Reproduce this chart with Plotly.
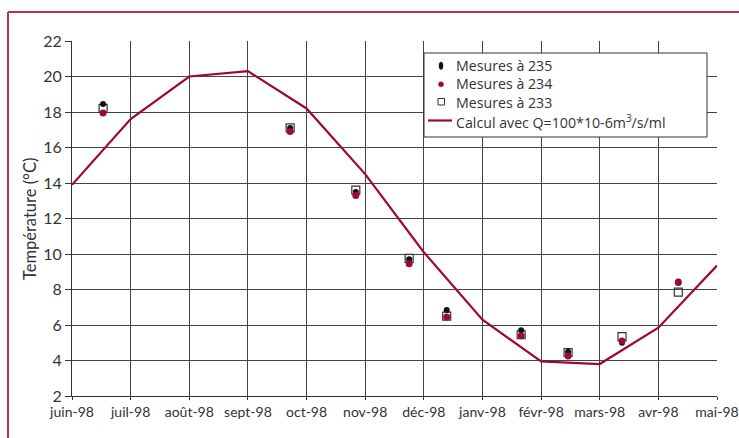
import plotly.graph_objects as go

# Month axis (index 0 = juin-98 ... 11 = mai-98)
months = ["juin-98", "juil-98", "août-98", "sept-98", "oct-98", "nov-98",
          "déc-98", "janv-98", "févr-98", "mars-98", "avr-98", "mai-98"]

# Computed temperature at the start of each month
calc_temp = [13.9, 17.6, 20.0, 20.3, 18.2, 14.5, 10.1, 6.3, 3.95, 3.8, 5.85, 9.35]

# Measurement dates expressed as fractional month index
meas_pos = [0.53, 3.72, 4.84, 5.75, 6.39, 7.66, 8.46, 9.38, 10.34]
meas_235 = [18.45, 17.1, 13.5, 9.7, 6.85, 5.7, 4.5, 5.0, 8.45]
meas_234 = [17.95, 16.9, 13.3, 9.45, 6.45, 5.4, 4.25, 5.1, 8.4]
meas_233 = [18.2, 17.1, 13.6, 9.75, 6.5, 5.45, 4.45, 5.35, 7.85]

y_ticks = list(range(2, 23, 2))

legend_labels = ["Mesures à 235", "Mesures à 234", "Mesures à 233",
                 "Calcul avec Q=100*10-6m<sup>3</sup>/s/ml"]

FONT = "Lato, 'Open Sans', sans-serif"
LEG_FONT = "'Open Sans', Lato, sans-serif"
RED = "#9c0a33"
INK = "#333333"

W, H = 739, 438
ML, MR, MT, MB = 72, 22, 41, 42
PW, PH = W - ML - MR, H - MT - MB


def px(x):
    """Horizontal pixel -> paper coordinate."""
    return (x - ML) / PW


def py(y):
    """Vertical pixel (from top) -> paper coordinate."""
    return (H - MB - y) / PH


fig = go.Figure()

fig.add_trace(go.Scatter(
    x=meas_pos, y=meas_233, mode="markers", name=legend_labels[2],
    marker=dict(symbol="square-open", size=8, color=INK,
                line=dict(width=1.2, color=INK))))

fig.add_trace(go.Scatter(
    x=meas_pos, y=meas_235, mode="markers", name=legend_labels[0],
    marker=dict(symbol="circle", size=6, color="#111111")))

fig.add_trace(go.Scatter(
    x=meas_pos, y=meas_234, mode="markers", name=legend_labels[1],
    marker=dict(symbol="circle", size=7, color=RED)))

fig.add_trace(go.Scatter(
    x=list(range(len(months))), y=calc_temp, mode="lines",
    name=legend_labels[3], line=dict(color=RED, width=2.2)))

# Legend box drawn as layout decoration
shapes = [
    dict(type="rect", xref="paper", yref="paper",
         x0=px(424), x1=px(707), y0=py(137), y1=py(53),
         line=dict(color=INK, width=1), fillcolor="white", layer="above"),
    # symbol: black ellipse
    dict(type="circle", xref="paper", yref="paper",
         x0=px(439), x1=px(443), y0=py(69.5), y1=py(62),
         line=dict(color="#111111", width=0.5), fillcolor="#111111", layer="above"),
    # symbol: red dot
    dict(type="circle", xref="paper", yref="paper",
         x0=px(438.5), x1=px(443.5), y0=py(86.8), y1=py(81.8),
         line=dict(color=RED, width=0.5), fillcolor=RED, layer="above"),
    # symbol: open square
    dict(type="rect", xref="paper", yref="paper",
         x0=px(438), x1=px(444.5), y0=py(105), y1=py(98.5),
         line=dict(color=INK, width=1), fillcolor="white", layer="above"),
    # symbol: line
    dict(type="line", xref="paper", yref="paper",
         x0=px(428), x1=px(452), y0=py(120.5), y1=py(120.5),
         line=dict(color=RED, width=2.2), layer="above"),
    # page frame (left and top edges)
    dict(type="line", xref="paper", yref="paper",
         x0=px(8), x1=px(8), y0=py(450), y1=py(12),
         line=dict(color="#b0335f", width=2)),
    dict(type="line", xref="paper", yref="paper",
         x0=px(8), x1=px(750), y0=py(12), y1=py(12),
         line=dict(color="#b0335f", width=2)),
]

annotations = [dict(
    text="Température (°C)", xref="paper", yref="paper",
    x=px(30), y=py(219), xanchor="center", yanchor="middle",
    textangle=-90, showarrow=False,
    font=dict(family=FONT, size=16.5, color=INK),
)]
for label, yc in zip(legend_labels, [65.5, 84, 102.5, 121.5]):
    annotations.append(dict(
        text=label, xref="paper", yref="paper",
        x=px(455), y=py(yc), xanchor="left", yanchor="middle",
        showarrow=False, borderpad=0,
        font=dict(family=LEG_FONT, size=14.2, color=INK),
    ))

fig.update_layout(
    width=W, height=H,
    margin=dict(l=ML, r=MR, t=MT, b=MB, autoexpand=False),
    paper_bgcolor="white", plot_bgcolor="white",
    font=dict(family=FONT, color=INK, size=13),
    showlegend=False,
    xaxis=dict(
        range=[0, 11], tickmode="array",
        tickvals=list(range(len(months))), ticktext=months,
        showgrid=True, gridcolor="#444444", gridwidth=1,
        showline=True, linecolor=INK, linewidth=1,
        ticks="outside", ticklen=3, tickcolor=INK,
        zeroline=False, tickfont=dict(size=14), automargin=False,
    ),
    yaxis=dict(
        range=[2, 22], tickmode="array", tickvals=y_ticks,
        showgrid=True, gridcolor="#444444", gridwidth=1,
        showline=True, linecolor=INK, linewidth=1,
        ticks="outside", ticklen=6, tickcolor=INK,
        zeroline=False, tickfont=dict(size=16), automargin=False,
    ),
    shapes=shapes,
    annotations=annotations,
)

fig.write_html("out.html")
